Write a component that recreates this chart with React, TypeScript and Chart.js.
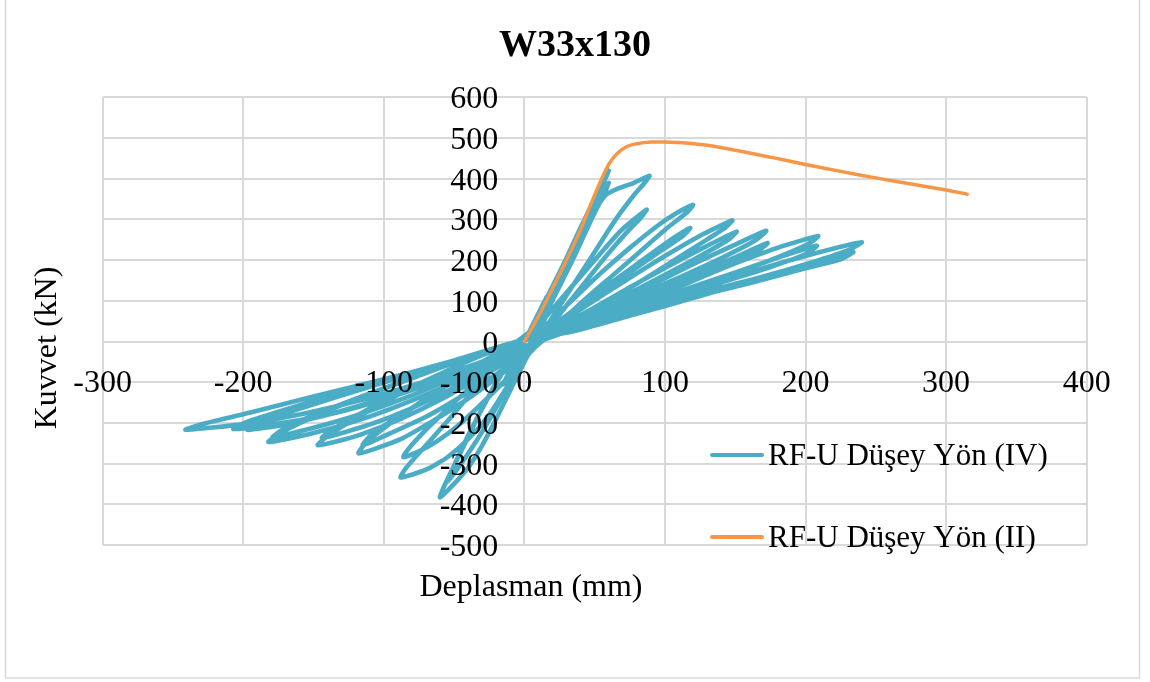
import React, { useEffect, useRef } from 'react';
import { Chart, registerables } from 'chart.js';

Chart.register(...registerables);

const chartTitle = 'W33x130';
const xAxisTitle = 'Deplasman (mm)';
const yAxisTitle = 'Kuvvet (kN)';
const cyclicLabel = 'RF-U Düşey Yön (IV)';
const monotonicLabel = 'RF-U Düşey Yön (II)';

const xTickValues = [-300, -200, -100, 0, 100, 200, 300, 400];
const yTickValues = [-500, -400, -300, -200, -100, 0, 100, 200, 300, 400, 500, 600];

// Cyclic test: [displacement (mm), force (kN)]
const cyclicPoints: number[][] = [
  [0, 0], [8, 50], [16, 110], [8, 55], [0, 0], [-8, -55], [-15, -105], [-8, -55], [0, 0],
  [10, 65], [20, 135], [30, 205], [40, 280], [50, 350], [57, 400], [60, 420], [57, 395], [48, 330], [36, 240], [25, 150], [15, 60], [8, 0],
  [0, -50], [-10, -120], [-20, -190], [-30, -255], [-40, -310], [-50, -350], [-60, -383], [-57, -355], [-45, -270], [-33, -185], [-20, -100], [-8, -25], [0, 0],
  [10, 55], [22, 140], [35, 230], [47, 310], [55, 360], [60, 390], [57, 365], [47, 295], [35, 205], [22, 115], [10, 30], [5, 0],
  [-5, -60], [-15, -130], [-27, -205], [-38, -265], [-48, -315], [-55, -345], [-52, -320], [-42, -245], [-30, -165], [-17, -85], [-5, -15], [0, 0],
  [12, 60], [25, 150], [38, 240], [50, 320], [58, 360], [66, 375], [78, 390], [89, 407], [86, 392], [78, 360], [65, 300], [50, 220], [35, 140], [20, 60], [10, 5],
  [0, -40], [-12, -110], [-25, -180], [-40, -240], [-55, -285], [-70, -315], [-88, -334], [-84, -310], [-70, -255], [-52, -185], [-35, -115], [-18, -50], [-5, 0],
  [10, 40], [25, 100], [40, 160], [55, 220], [68, 270], [78, 300], [87, 324], [83, 305], [72, 265], [57, 205], [42, 140], [27, 75], [14, 10],
  [2, -35], [-12, -90], [-28, -145], [-45, -200], [-62, -245], [-75, -270], [-86, -284], [-82, -262], [-68, -210], [-50, -150], [-32, -90], [-15, -35], [-5, 0],
  [15, 40], [35, 105], [55, 170], [75, 230], [95, 285], [108, 315], [120, 336], [116, 318], [102, 280], [82, 220], [62, 160], [42, 100], [25, 45], [14, 5],
  [0, -35], [-20, -90], [-42, -145], [-65, -195], [-88, -240], [-105, -262], [-118, -275], [-113, -250], [-95, -200], [-72, -145], [-48, -90], [-25, -40], [-5, 0],
  [18, 35], [40, 90], [62, 145], [84, 200], [102, 245], [118, 279], [113, 260], [96, 220], [75, 170], [52, 115], [30, 55], [14, 5],
  [-2, -35], [-22, -85], [-45, -135], [-70, -185], [-95, -225], [-115, -255], [-109, -230], [-90, -185], [-67, -135], [-43, -82], [-22, -35], [-5, 0],
  [20, 35], [45, 90], [72, 150], [100, 210], [125, 260], [138, 282], [148, 298], [143, 280], [125, 240], [100, 185], [72, 125], [45, 70], [25, 25], [14, 5],
  [-5, -35], [-30, -85], [-58, -140], [-88, -190], [-115, -227], [-133, -245], [-147, -255], [-140, -232], [-118, -185], [-92, -135], [-63, -85], [-33, -38], [-5, 0],
  [22, 32], [48, 80], [76, 135], [104, 188], [130, 235], [151, 270], [145, 250], [125, 210], [98, 160], [70, 110], [42, 60], [14, 5],
  [-8, -35], [-35, -85], [-65, -140], [-95, -185], [-122, -217], [-144, -237], [-136, -215], [-113, -170], [-86, -122], [-57, -75], [-28, -30], [-5, 0],
  [25, 30], [55, 80], [88, 135], [120, 190], [148, 235], [172, 272], [165, 250], [142, 208], [112, 160], [80, 112], [48, 62], [14, 5],
  [-10, -35], [-42, -88], [-78, -142], [-115, -190], [-150, -225], [-182, -247], [-172, -222], [-145, -178], [-112, -132], [-78, -88], [-42, -42], [-5, 0],
  [25, 25], [58, 70], [92, 120], [125, 170], [152, 210], [173, 242], [166, 222], [142, 185], [110, 140], [77, 95], [45, 50], [14, 5],
  [-12, -32], [-46, -82], [-82, -135], [-118, -180], [-150, -212], [-179, -235], [-170, -212], [-142, -170], [-108, -125], [-74, -82], [-38, -38], [-5, 0],
  [30, 28], [68, 78], [108, 132], [145, 185], [180, 230], [209, 259], [201, 238], [175, 200], [140, 158], [102, 114], [62, 68], [30, 28], [14, 5],
  [-15, -35], [-55, -88], [-98, -140], [-140, -180], [-178, -203], [-207, -215], [-196, -196], [-165, -162], [-127, -122], [-88, -83], [-48, -45], [-5, 0],
  [30, 25], [70, 70], [112, 120], [150, 168], [182, 208], [208, 235], [200, 215], [175, 183], [140, 145], [102, 105], [62, 62], [14, 5],
  [-15, -32], [-55, -85], [-98, -137], [-140, -180], [-172, -205], [-197, -217], [-186, -196], [-155, -160], [-118, -120], [-80, -80], [-40, -40], [-5, 0],
  [35, 28], [78, 75], [122, 125], [165, 175], [205, 215], [240, 244], [231, 225], [205, 195], [165, 155], [120, 115], [75, 72], [35, 30], [14, 5],
  [-18, -35], [-62, -88], [-110, -138], [-158, -178], [-200, -203], [-241, -217], [-228, -202], [-192, -172], [-150, -135], [-105, -97], [-58, -55], [-5, 0],
  [35, 25], [80, 68], [125, 112], [168, 156], [205, 192], [234, 220], [225, 202], [200, 180], [160, 143], [115, 105], [70, 65], [30, 25], [10, 0],
];

// Monotonic test
const monotonicDisp = [0, 10, 20, 30, 40, 47, 54, 60, 66, 73, 80, 90, 100, 115, 130, 150, 175, 200, 225, 250, 275, 300, 315];
const monotonicForce = [0, 62, 130, 200, 275, 335, 392, 435, 462, 479, 486, 490, 490, 488, 482, 470, 453, 435, 418, 402, 387, 372, 362];

const BLUE = '#4BACC6';
const ORANGE = '#F79646';
const GRID = '#D9D9D9';
const FONT = "'Liberation Serif', 'Times New Roman', serif";

const decorPlugin = {
  id: 'decor',
  beforeDraw(chart: any) {
    const ctx = chart.ctx;
    ctx.save();
    ctx.fillStyle = '#ffffff';
    ctx.fillRect(0, 0, chart.width, chart.height);
    ctx.strokeStyle = GRID;
    ctx.lineWidth = 1.5;
    ctx.strokeRect(5.5, -1.5, 1134, 679.5);
    ctx.restore();
  },
  afterDraw(chart: any) {
    const ctx = chart.ctx;
    const xs = chart.scales.x;
    const ys = chart.scales.y;
    const x0 = xs.getPixelForValue(0);
    const y0 = ys.getPixelForValue(0);
    ctx.save();
    ctx.fillStyle = '#000000';
    // tick labels
    ctx.font = `32px ${FONT}`;
    ctx.textBaseline = 'alphabetic';
    ctx.textAlign = 'right';
    ys.ticks.forEach((t: any) => {
      ctx.fillText(String(t.value), x0 - 26, ys.getPixelForValue(t.value) + 11);
    });
    ctx.textAlign = 'center';
    xs.ticks.forEach((t: any) => {
      ctx.fillText(String(t.value), xs.getPixelForValue(t.value), y0 + 50);
    });
    // title
    ctx.font = `bold 38px ${FONT}`;
    ctx.textAlign = 'center';
    ctx.fillText(chartTitle, 575, 56);
    // axis titles
    ctx.font = `32px ${FONT}`;
    ctx.fillText(xAxisTitle, 531, 596);
    ctx.save();
    ctx.translate(56, 348);
    ctx.rotate(-Math.PI / 2);
    ctx.fillText(yAxisTitle, 0, 0);
    ctx.restore();
    // legend
    const items = [
      { label: cyclicLabel, color: BLUE, y: 455 },
      { label: monotonicLabel, color: ORANGE, y: 537 },
    ];
    ctx.lineCap = 'round';
    ctx.lineWidth = 4;
    ctx.font = `31px ${FONT}`;
    ctx.textAlign = 'left';
    items.forEach((it) => {
      ctx.strokeStyle = it.color;
      ctx.beginPath();
      ctx.moveTo(712, it.y);
      ctx.lineTo(762, it.y);
      ctx.stroke();
      ctx.fillText(it.label, 768, it.y + 10);
    });
    ctx.restore();
  },
};

export default function App() {
  const ref = useRef<HTMLCanvasElement>(null);
  useEffect(() => {
    document.body.style.margin = '0';
    const canvas = ref.current!;
    const cyclicData = cyclicPoints.map(([x, y]) => ({ x, y }));
    const monotonicData = monotonicDisp.map((x, i) => ({ x, y: monotonicForce[i] }));
    const chart = new Chart(canvas, {
      type: 'scatter',
      data: {
        datasets: [
          {
            label: monotonicLabel,
            data: monotonicData,
            showLine: true,
            borderColor: ORANGE,
            backgroundColor: ORANGE,
            borderWidth: 3.5,
            pointRadius: 0,
            tension: 0.4,
            borderCapStyle: 'round',
            borderJoinStyle: 'round',
          },
          {
            label: cyclicLabel,
            data: cyclicData,
            showLine: true,
            borderColor: BLUE,
            backgroundColor: BLUE,
            borderWidth: 4.6,
            pointRadius: 0,
            tension: 0.2,
            borderCapStyle: 'round',
            borderJoinStyle: 'round',
          },
        ],
      },
      options: {
        responsive: false,
        animation: false,
        devicePixelRatio: 1,
        events: [],
        layout: { padding: { left: 102.6, right: 63.3, top: 97.3, bottom: 137 } },
        plugins: {
          legend: { display: false },
          title: { display: false },
          tooltip: { enabled: false },
        },
        scales: {
          x: {
            type: 'linear',
            min: -300,
            max: 400,
            afterBuildTicks: (s: any) => {
              s.ticks = xTickValues.map((v) => ({ value: v }));
            },
            grid: { color: GRID, lineWidth: 2, drawTicks: false },
            border: { display: false },
            ticks: { display: false },
          },
          y: {
            type: 'linear',
            min: -500,
            max: 600,
            afterBuildTicks: (s: any) => {
              s.ticks = yTickValues.map((v) => ({ value: v }));
            },
            grid: { color: GRID, lineWidth: 2, drawTicks: false },
            border: { display: false },
            ticks: { display: false },
          },
        },
      },
      plugins: [decorPlugin],
    } as any);
    return () => chart.destroy();
  }, []);
  return <canvas ref={ref} width={1150} height={682} style={{ display: 'block' }} />;
}
